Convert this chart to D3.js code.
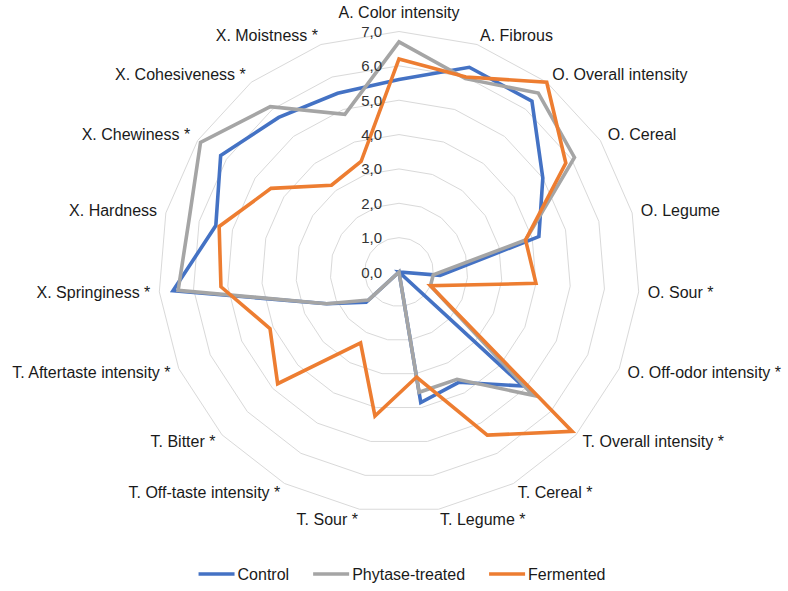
<!DOCTYPE html>
<html>
<head>
<meta charset="utf-8">
<script src="https://cdn.jsdelivr.net/npm/d3@7"></script>
<style>
  html, body { margin: 0; padding: 0; background: #ffffff; }
  svg { display: block; font-family: "Liberation Sans", Arial, sans-serif; }
</style>
</head>
<body>
<svg id="chart" width="788" height="591"></svg>
<script>
const categories = [
  "A. Color intensity", "A. Fibrous", "O. Overall intensity", "O. Cereal", "O. Legume",
  "O. Sour *", "O. Off-odor intensity *", "T. Overall intensity *", "T. Cereal *", "T. Legume *",
  "T. Sour *", "T. Off-taste intensity *", "T. Bitter *", "T. Aftertaste intensity *",
  "X. Springiness *", "X. Hardness", "X. Chewiness *", "X. Cohesiveness *", "X. Moistness *"
];
const seriesNames = ["Control", "Phytase-treated", "Fermented"];
const control   = [5.6, 6.3, 6.3, 5.0, 4.2, 1.2, 0.0, 4.9, 3.65, 3.85, 0.0, 0.0, 1.3, 2.3, 6.6, 5.5, 6.2, 5.7, 5.5];
const phytase   = [6.7, 5.95, 6.6, 6.1, 3.8, 1.0, 1.0, 5.3, 3.55, 3.55, 0.0, 0.0, 1.2, 2.3, 6.45, 6.3, 6.9, 6.1, 4.85];
const fermented = [6.2, 6.0, 7.0, 5.8, 3.8, 4.0, 1.0, 6.85, 5.4, 3.1, 4.25, 2.35, 4.8, 4.1, 5.2, 5.4, 4.45, 3.2, 3.4];
const tickValues = [0, 1, 2, 3, 4, 5, 6, 7];
const tickLabels = ["0,0", "1,0", "2,0", "3,0", "4,0", "5,0", "6,0", "7,0"];
const colors = ["#4472C4", "#A5A5A5", "#ED7D31"];

const svg = d3.select("#chart");
const cx = 399, cy = 272, R = 240.5;
const n = categories.length;
const r = d3.scaleLinear().domain([0, 7]).range([0, R]);
const angle = d3.scaleLinear().domain([0, n]).range([0, 2 * Math.PI]);
const pt = (i, v) => [cx + r(v) * Math.sin(angle(i)), cy - r(v) * Math.cos(angle(i))];

// grid polygons
const gridG = svg.append("g");
tickValues.forEach(t => {
  if (t === 0) return;
  const pts = d3.range(n).map(i => pt(i, t));
  gridG.append("path")
    .attr("d", d3.line()(pts) + "Z")
    .attr("fill", "none")
    .attr("stroke", "#D9D9D9")
    .attr("stroke-width", 1);
});

// series
const allSeries = [control, phytase, fermented];
const lineGen = d3.line().curve(d3.curveLinearClosed);
allSeries.forEach((vals, s) => {
  svg.append("path")
    .attr("d", lineGen(vals.map((v, i) => pt(i, v))))
    .attr("fill", "none")
    .attr("stroke", colors[s])
    .attr("stroke-width", 3.6)
    .attr("stroke-linejoin", "miter");
});

// tick labels
tickValues.forEach((t, k) => {
  svg.append("text")
    .attr("x", cx - 17)
    .attr("y", cy - r(t))
    .attr("text-anchor", "end")
    .attr("dominant-baseline", "central")
    .attr("font-size", 15)
    .attr("fill", "#333333")
    .text(tickLabels[k]);
});

// category labels
categories.forEach((c, i) => {
  const a = angle(i);
  const s = Math.sin(a), co = Math.cos(a);
  let x = cx + (R + 9) * s;
  let y = cy - (R + 10) * co;
  let anchor = "middle";
  if (s > 0.05) anchor = "start";
  else if (s < -0.05) anchor = "end";
  else y -= 9.5;
  svg.append("text")
    .attr("x", x).attr("y", y)
    .attr("text-anchor", anchor)
    .attr("dominant-baseline", "central")
    .attr("font-size", 16)
    .attr("fill", "#1a1a1a")
    .text(c);
});

// legend
const legend = svg.append("g");
let lx = 0;
seriesNames.forEach((name, s) => {
  const g = legend.append("g").attr("transform", `translate(${lx},0)`);
  g.append("line").attr("x1", 0).attr("x2", 36).attr("y1", 0).attr("y2", 0)
    .attr("stroke", colors[s]).attr("stroke-width", 3.6);
  const t = g.append("text").attr("x", 39).attr("y", 0)
    .attr("dominant-baseline", "central")
    .attr("font-size", 16).attr("fill", "#1a1a1a").text(name);
  lx += 39 + t.node().getComputedTextLength() + 24;
});
const totalW = lx - 24;
legend.attr("transform", `translate(${402 - totalW / 2},574)`);
</script>
</body>
</html>
